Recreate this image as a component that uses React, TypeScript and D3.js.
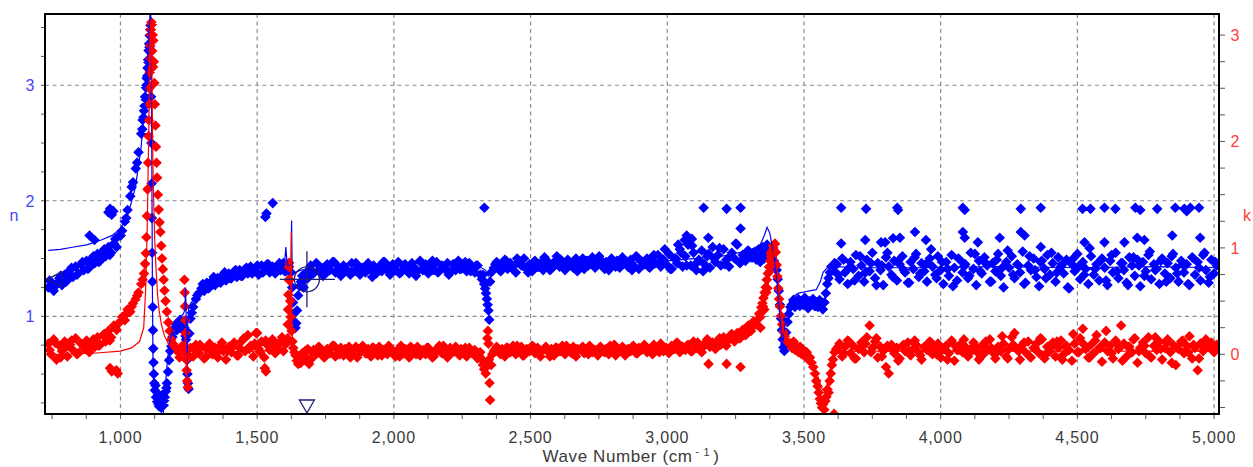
import React from 'react';
import * as d3 from 'd3';

const W = 1253;
const H = 467;
const plot = { left: 45, right: 1219, top: 14, bottom: 414 };

const waveDomain = [724, 5018];
const nDomain = [0.154, 3.617];
const kDomain = [-0.561, 3.198];

const waveTicks = [1000, 1500, 2000, 2500, 3000, 3500, 4000, 4500, 5000];
const waveMinorStep = 125;
const nTicks = [1, 2, 3];
const kTicks = [0, 1, 2, 3];
const minorStep = 0.25;

// ---- n (refractive index) measured points ----
const bandStep = 10;
const bandStepB = 20;
const nBand1Start = 736;
const nBand1 = [1.25, 1.30, 1.22, 1.28, 1.33, 1.27, 1.36, 1.31, 1.40, 1.34, 1.43, 1.37, 1.45, 1.40, 1.48, 1.42, 1.50, 1.46, 1.54, 1.48, 1.56, 1.52, 1.60, 1.55, 1.63, 1.60, 1.70, 1.74, 1.82, 1.92, 2.04, 2.16, 2.28, 2.42, 2.58, 2.78];
const nBand1bStart = 741;
const nBand1b = [1.31, 1.26, 1.35, 1.30, 1.42, 1.36, 1.47, 1.41, 1.52, 1.47, 1.58, 1.53, 1.67, 1.70, 1.85, 2.12, 2.33, 2.70];
const nBand2Start = 1256;
const nBand2 = [0.98, 1.08, 1.15, 1.20, 1.24, 1.22, 1.29, 1.25, 1.31, 1.27, 1.33, 1.29, 1.36, 1.31, 1.37, 1.33, 1.39, 1.34, 1.40, 1.35, 1.41, 1.37, 1.43, 1.38, 1.42, 1.36, 1.44, 1.39, 1.45, 1.38, 1.43, 1.37, 1.44, 1.40, 1.46, 1.39, 1.43];
const nBand2bStart = 1261;
const nBand2b = [1.03, 1.18, 1.28, 1.24, 1.34, 1.30, 1.38, 1.33, 1.40, 1.35, 1.42, 1.37, 1.44, 1.38, 1.45, 1.40, 1.46, 1.39];
const nBand3Start = 1696;
const nBand3 = [1.44, 1.37, 1.46, 1.39, 1.42, 1.36, 1.45, 1.40, 1.47, 1.38, 1.43, 1.35, 1.44, 1.41, 1.37, 1.46, 1.39, 1.45, 1.36, 1.42, 1.38, 1.46, 1.40, 1.44, 1.37, 1.43, 1.39, 1.47, 1.41, 1.36, 1.45, 1.40, 1.47, 1.38, 1.44, 1.41, 1.37, 1.46, 1.42, 1.39, 1.48, 1.40, 1.45, 1.37, 1.43, 1.40, 1.47, 1.39, 1.44, 1.41, 1.46, 1.38, 1.45, 1.40, 1.48, 1.41, 1.44, 1.39, 1.46, 1.42, 1.38, 1.44, 1.36];
const nBand3bStart = 1701;
const nBand3b = [1.39, 1.45, 1.35, 1.43, 1.47, 1.38, 1.42, 1.36, 1.46, 1.40, 1.44, 1.34, 1.41, 1.47, 1.39, 1.43, 1.37, 1.45, 1.42, 1.35, 1.46, 1.40, 1.48, 1.38, 1.43, 1.36, 1.45, 1.41, 1.47, 1.39, 1.44];
const nBand4Start = 2366;
const nBand4 = [1.42, 1.47, 1.40, 1.45, 1.49, 1.41, 1.46, 1.43, 1.38, 1.47, 1.44, 1.50, 1.41, 1.45, 1.39, 1.48, 1.43, 1.46, 1.40, 1.49, 1.44, 1.41, 1.47, 1.52, 1.43, 1.46, 1.40, 1.49, 1.45, 1.42, 1.50, 1.44, 1.47, 1.41, 1.48, 1.45, 1.51, 1.42, 1.46, 1.49, 1.43, 1.47, 1.40, 1.50, 1.45, 1.48, 1.42, 1.51, 1.46, 1.43, 1.49, 1.44, 1.52, 1.41, 1.47, 1.45, 1.50, 1.42, 1.48, 1.46, 1.53, 1.43, 1.49, 1.45, 1.54, 1.41, 1.50, 1.46, 1.58, 1.43, 1.52, 1.62, 1.44, 1.55, 1.40, 1.49, 1.57, 1.45, 1.52, 1.42, 1.60, 1.47, 1.53, 1.44, 1.58, 1.49, 1.43, 1.55, 1.50, 1.62, 1.46, 1.53, 1.48, 1.57, 1.51, 1.55, 1.49];
const nBand4bStart = 2371;
const nBand4b = [1.45, 1.39, 1.48, 1.42, 1.50, 1.44, 1.38, 1.47, 1.43, 1.51, 1.40, 1.46, 1.49, 1.42, 1.45, 1.39, 1.50, 1.44, 1.47, 1.52, 1.41, 1.46, 1.43, 1.49, 1.45, 1.40, 1.51, 1.47, 1.43, 1.53, 1.46, 1.58, 1.41, 1.50, 1.55, 1.44, 1.61, 1.47, 1.39, 1.54, 1.50, 1.59, 1.45, 1.52, 1.63, 1.48, 1.56, 1.51];
const nBand5Start = 3620;
const nBand5 = [1.45, 1.32, 1.50, 1.38, 1.28, 1.47, 1.41, 1.53, 1.35, 1.44, 1.30, 1.49, 1.39, 1.55, 1.33, 1.46, 1.40, 1.27, 1.51, 1.43, 1.36, 1.48, 1.31, 1.45, 1.52, 1.38, 1.29, 1.47, 1.41, 1.54, 1.34, 1.46, 1.39, 1.30, 1.50, 1.43, 1.36, 1.52, 1.40, 1.28, 1.47, 1.35, 1.53, 1.42, 1.31, 1.49, 1.38, 1.45, 1.33, 1.55, 1.41, 1.27, 1.48, 1.37, 1.51, 1.44, 1.30, 1.46, 1.39, 1.54, 1.35, 1.25, 1.47, 1.42, 1.52, 1.33, 1.45, 1.38, 1.56, 1.29, 1.44, 1.40, 1.50, 1.34, 1.26, 1.48, 1.41, 1.53, 1.36, 1.46, 1.30, 1.51, 1.43, 1.37, 1.49, 1.24, 1.45, 1.39, 1.54, 1.32, 1.47, 1.41, 1.28, 1.52, 1.36, 1.45, 1.31, 1.50, 1.42, 1.27, 1.48, 1.38, 1.55, 1.33, 1.46, 1.40, 1.29, 1.51, 1.44, 1.35, 1.49, 1.26, 1.47, 1.39, 1.53, 1.32, 1.45, 1.41, 1.28, 1.50, 1.37, 1.46, 1.33, 1.54, 1.42, 1.30, 1.48, 1.38, 1.45, 1.27, 1.51, 1.36, 1.47, 1.31, 1.53, 1.40, 1.29, 1.49, 1.37, 1.44];
const nBand5bStart = 3625;
const nBand5b = [1.36, 1.49, 1.42, 1.31, 1.52, 1.38, 1.46, 1.27, 1.44, 1.55, 1.34, 1.48, 1.40, 1.29, 1.51, 1.37, 1.45, 1.58, 1.33, 1.47, 1.41, 1.26, 1.50, 1.43, 1.35, 1.54, 1.39, 1.46, 1.30, 1.49, 1.42, 1.57, 1.36, 1.44, 1.28, 1.52, 1.40, 1.47, 1.33, 1.55, 1.38, 1.45, 1.25, 1.50, 1.43, 1.36, 1.59, 1.41, 1.48, 1.31, 1.53, 1.39, 1.46, 1.27, 1.51, 1.44, 1.35, 1.56, 1.40, 1.48, 1.30, 1.52, 1.37, 1.45, 1.28, 1.50, 1.42, 1.55, 1.34, 1.47];
const nRidgeStart = 3330;
const nRidgeStep = 5;
const nRidge = [1.52, 1.58, 1.47, 1.55, 1.60, 1.50, 1.57, 1.62, 1.53, 1.59, 1.50, 1.56, 1.48, 1.45, 1.40];
const nPlateauStart = 3455;
const nPlateauStep = 6;
const nPlateau = [1.10, 1.14, 1.08, 1.12, 1.15, 1.09, 1.13, 1.10, 1.16, 1.11, 1.07, 1.13, 1.10, 1.15, 1.09, 1.12, 1.08, 1.14, 1.10, 1.06];
const nFeatures: [number, number][] = [
  [1080, 2.62], [1084, 2.72], [1088, 2.82], [1090, 2.90], [1092, 2.88], [1093, 2.98], [1095, 3.0], [1096, 3.06], [1098, 3.08], [1099, 3.15], [1101, 3.22], [1102, 3.2], [1103, 3.30], [1105, 3.36], [1106, 3.33], [1107, 3.43], [1109, 3.48], [1110, 3.52],
  [1112, 2.9], [1113, 2.5], [1114, 2.15], [1115, 1.85], [1116, 1.55], [1117, 1.3], [1118, 1.08], [1119, 0.88], [1120, 0.72], [1121, 0.6], [1122, 0.5], [1124, 0.42],
  [1126, 0.36], [1128, 0.40], [1130, 0.30], [1134, 0.26], [1136, 0.33], [1138, 0.24], [1142, 0.22], [1144, 0.30], [1146, 0.25], [1150, 0.21], [1152, 0.31], [1154, 0.27], [1158, 0.23], [1160, 0.27], [1162, 0.30], [1166, 0.35], [1168, 0.38], [1170, 0.42], [1174, 0.52], [1178, 0.62], [1182, 0.70],
  [1186, 0.74], [1190, 0.82], [1194, 0.87], [1198, 0.90], [1202, 0.93], [1206, 0.88], [1210, 0.95], [1214, 0.91], [1218, 0.97], [1222, 0.93], [1226, 0.89], [1230, 0.95], [1234, 0.90], [1238, 0.83], [1240, 0.80], [1243, 0.62], [1245, 0.50], [1247, 0.42], [1249, 0.37], [1252, 0.85],
  [1624, 1.38], [1628, 1.25], [1631, 1.12], [1634, 1.02], [1637, 0.95], [1640, 0.90], [1643, 0.94], [1646, 1.05], [1650, 1.18], [1655, 1.26], [1660, 1.30], [1665, 1.35], [1670, 1.25], [1675, 1.32], [1680, 1.38], [1685, 1.33], [1690, 1.40],
  [2322, 1.32], [2326, 1.36], [2330, 1.28], [2334, 1.24], [2337, 1.20], [2340, 1.15], [2343, 1.10], [2346, 1.05], [2349, 0.97], [2352, 1.30], [2356, 1.38],
  [3404, 1.32], [3408, 1.22], [3412, 1.10], [3416, 0.98], [3419, 0.88], [3422, 0.80], [3425, 0.73], [3428, 0.70], [3431, 0.76], [3435, 0.86], [3440, 0.95], [3445, 1.02], [3450, 1.08],
  [3575, 1.12], [3580, 1.20], [3585, 1.28], [3590, 1.33], [3595, 1.38], [3600, 1.43], [3606, 1.40], [3612, 1.46],
];
const nOutliers: [number, number][] = [
  [887, 1.70], [905, 1.66], [956, 1.90], [962, 1.93], [968, 1.88], [974, 1.91], [1530, 1.86], [1534, 1.89], [1557, 1.98], [2331, 1.94],
  [3133, 1.94], [3217, 1.93], [3268, 1.94], [3636, 1.94], [3727, 1.93], [3841, 1.94], [3844, 1.92], [4081, 1.94], [4088, 1.92], [4293, 1.93], [4366, 1.94], [4519, 1.93], [4548, 1.93], [4599, 1.94], [4639, 1.93], [4712, 1.94], [4730, 1.92], [4792, 1.93], [4858, 1.94], [4891, 1.93], [4900, 1.91], [4913, 1.94], [4945, 1.94],
  [3040, 1.62], [3064, 1.66], [3071, 1.70], [3090, 1.67], [3150, 1.68], [3268, 1.76], [3636, 1.63], [3724, 1.66], [3782, 1.64], [3797, 1.64], [3826, 1.675], [3851, 1.68], [3906, 1.73], [3946, 1.66], [4081, 1.73], [4088, 1.68], [4136, 1.64], [4216, 1.68], [4293, 1.73], [4307, 1.70], [4366, 1.60], [4526, 1.64], [4599, 1.64], [4672, 1.64], [4719, 1.68], [4745, 1.66], [4847, 1.70], [4949, 1.68],
];

// ---- k (extinction coefficient) measured points ----
const kBand1Start = 736;
const kBand1 = [0.10, 0.00, 0.14, -0.05, 0.08, 0.03, 0.12, -0.02, 0.09, 0.04, 0.15, 0.01, 0.10, 0.06, 0.13, 0.02, 0.11, 0.07, 0.16, 0.09, 0.18, 0.12, 0.22, 0.16, 0.27, 0.23, 0.30, 0.35, 0.32, 0.42, 0.40, 0.48, 0.52, 0.58, 0.66, 0.76];
const kBand1bStart = 741;
const kBand1b = [0.04, 0.11, -0.03, 0.07, 0.13, 0.00, 0.09, 0.05, 0.14, 0.08, 0.19, 0.13, 0.25, 0.31, 0.38, 0.45, 0.55, 0.70];
const kBand2Start = 1206;
const kBand2 = [0.05, -0.03, 0.08, 0.02, -0.04, 0.06, -0.02, 0.09, 0.01, 0.07, -0.04, 0.05, 0.10, 0.00, 0.06, -0.03, 0.08, 0.03, -0.05, 0.07, 0.02, 0.11, -0.01, 0.06, 0.13, 0.03, 0.18, 0.08, -0.02, 0.20, 0.05, 0.12, -0.03, 0.09, 0.04, 0.14, 0.01, 0.08, 0.12, 0.03, 0.10];
const kBand2bStart = 1211;
const kBand2b = [0.02, 0.07, -0.02, 0.04, 0.09, -0.03, 0.06, 0.01, 0.11, 0.03, 0.07, -0.01, 0.15, 0.05, 0.10, 0.02, 0.13, 0.06, 0.09, 0.16];
const kBand3Start = 1696;
const kBand3 = [-0.05, 0.04, 0.00, 0.07, 0.02, -0.03, 0.05, 0.01, 0.08, -0.02, 0.04, 0.06, -0.01, 0.03, 0.07, 0.00, 0.05, -0.03, 0.04, 0.08, 0.01, 0.05, -0.02, 0.06, 0.02, 0.07, -0.01, 0.04, 0.00, 0.06, 0.03, -0.02, 0.05, 0.08, 0.01, 0.04, -0.03, 0.06, 0.02, 0.07, -0.01, 0.04, 0.00, 0.06, 0.03, -0.02, 0.05, 0.08, 0.01, 0.04, -0.03, 0.06, 0.02, 0.07, 0.00, 0.05, 0.03, -0.02, 0.06, 0.01, 0.04, -0.04, 0.02];
const kBand3bStart = 1701;
const kBand3b = [0.02, 0.06, -0.02, 0.04, 0.08, 0.00, 0.05, -0.03, 0.07, 0.03, 0.01, 0.06, -0.01, 0.04, 0.08, 0.02, -0.02, 0.05, 0.07, 0.00, 0.03, 0.06, -0.03, 0.04, 0.08, 0.01, 0.05, -0.01, 0.06, 0.03, 0.00];
const kBand4Start = 2366;
const kBand4 = [0.03, 0.07, 0.01, 0.05, -0.02, 0.06, 0.02, 0.08, 0.00, 0.04, 0.07, -0.01, 0.05, 0.03, 0.08, 0.01, 0.06, -0.02, 0.04, 0.07, 0.02, 0.05, -0.01, 0.06, 0.03, 0.08, 0.00, 0.05, 0.02, 0.07, -0.02, 0.04, 0.06, 0.01, 0.05, 0.08, 0.02, 0.04, -0.01, 0.07, 0.03, 0.05, 0.00, 0.06, 0.09, 0.02, 0.04, 0.07, -0.01, 0.05, 0.03, 0.08, 0.01, 0.06, 0.04, 0.09, 0.02, 0.05, 0.00, 0.07, 0.04, 0.10, 0.03, 0.06, 0.01, 0.08, 0.05, 0.11, 0.02, 0.07, 0.04, 0.09, 0.03, 0.12, 0.06, 0.08, 0.02, 0.10, 0.14, 0.07, 0.11, 0.05, 0.13, 0.09, 0.16, 0.08, 0.14, 0.19, 0.12, 0.20, 0.15, 0.23, 0.18, 0.27, 0.22, 0.31, 0.28];
const kBand4bStart = 2371;
const kBand4b = [0.05, 0.00, 0.06, 0.03, 0.08, -0.01, 0.04, 0.07, 0.02, 0.05, -0.02, 0.06, 0.03, 0.08, 0.01, 0.05, 0.07, 0.00, 0.04, 0.06, 0.02, 0.08, -0.01, 0.05, 0.03, 0.07, 0.01, 0.06, 0.04, 0.09, 0.02, 0.06, 0.04, 0.10, 0.05, 0.08, 0.03, 0.11, 0.07, 0.13, 0.09, 0.15, 0.11, 0.18, 0.14, 0.21, 0.19, 0.26];
const kBand5Start = 3620;
const kBand5 = [0.04, 0.10, -0.02, 0.07, 0.13, 0.01, 0.08, -0.04, 0.05, 0.11, 0.02, 0.16, 0.27, 0.06, 0.12, -0.03, 0.07, 0.03, -0.12, -0.18, 0.09, 0.01, 0.06, -0.04, 0.08, 0.03, 0.11, -0.01, 0.05, 0.09, 0.02, -0.05, 0.07, 0.04, 0.12, 0.00, 0.06, 0.10, -0.03, 0.05, 0.08, 0.01, 0.13, -0.06, 0.04, 0.09, 0.02, 0.07, -0.02, 0.05, 0.11, 0.03, -0.05, 0.08, 0.01, 0.06, 0.14, 0.02, -0.04, 0.07, 0.03, 0.10, -0.02, 0.05, 0.16, 0.20, 0.04, -0.05, 0.09, 0.02, 0.12, -0.03, 0.06, 0.10, 0.01, 0.14, -0.04, 0.07, 0.03, 0.11, -0.02, 0.06, 0.13, 0.00, 0.08, 0.04, -0.06, 0.10, 0.02, 0.15, 0.24, 0.05, -0.03, 0.09, 0.01, 0.18, 0.06, -0.07, 0.11, 0.03, 0.08, -0.04, 0.13, 0.05, 0.27, 0.10, -0.02, 0.07, 0.02, 0.15, -0.08, 0.06, 0.11, 0.01, 0.16, -0.03, 0.08, 0.04, 0.12, -0.05, 0.06, 0.14, 0.02, 0.09, -0.10, 0.05, 0.12, 0.01, 0.08, 0.17, -0.04, 0.06, -0.15, 0.10, 0.03, 0.14, 0.07, 0.11, 0.02, 0.09];
const kBand5bStart = 3625;
const kBand5b = [0.07, 0.01, 0.12, -0.04, 0.06, 0.10, 0.02, 0.15, -0.02, 0.08, 0.04, -0.06, 0.09, 0.03, 0.13, -0.01, 0.07, 0.11, 0.00, 0.05, -0.05, 0.10, 0.04, 0.14, 0.01, 0.08, -0.03, 0.12, 0.06, 0.02, 0.17, -0.04, 0.09, 0.03, 0.11, -0.02, 0.06, 0.15, 0.00, 0.08, 0.12, -0.05, 0.05, 0.19, 0.02, 0.09, -0.03, 0.13, 0.06, 0.22, 0.01, 0.10, -0.06, 0.07, 0.14, 0.03, 0.08, -0.02, 0.16, 0.05, 0.11, -0.08, 0.06, 0.13, 0.02, 0.09, -0.04, 0.12, 0.07, 0.04];
const kFeatures: [number, number][] = [
  [1090, 0.85], [1093, 0.95], [1095, 1.10], [1097, 1.30], [1099, 1.55], [1101, 1.80], [1103, 2.05], [1104, 2.2], [1105, 2.35], [1106, 2.5], [1107, 2.65], [1108, 2.78], [1109, 2.90], [1111, 3.05], [1112, 3.0], [1113, 3.12], [1115, 3.10], [1116, 2.85], [1118, 3.00], [1119, 2.7], [1120, 2.95], [1122, 2.75], [1124, 2.55], [1126, 2.35], [1128, 2.15], [1130, 1.95], [1132, 1.80], [1134, 1.66], [1137, 1.50], [1140, 1.36], [1143, 1.24], [1146, 1.15], [1149, 1.02], [1152, 0.90], [1155, 0.80], [1158, 0.70], [1161, 0.60], [1165, 0.50], [1170, 0.40], [1175, 0.30], [1180, 0.22], [1186, 0.14], [1192, 0.10], [1198, 0.07],
  [1234, 0.70], [1235, 0.58], [1236, 0.45], [1237, 0.32], [1238, 0.20], [1240, 0.06], [1241, -0.05], [1242, -0.15], [1244, -0.25], [1246, -0.31],
  [1611, 0.15], [1612, 0.28], [1613, 0.42], [1614, 0.56], [1615, 0.70], [1616, 0.82], [1617, 0.86], [1619, 0.70], [1621, 0.50], [1623, 0.35], [1626, 0.22], [1629, 0.12], [1632, 0.06], [1636, 0.02], [1640, -0.01], [1645, -0.06], [1650, -0.09], [1655, -0.04], [1660, -0.08], [1665, 0.01], [1670, -0.05], [1675, 0.03], [1680, -0.03], [1685, 0.05], [1690, -0.09],
  [2322, -0.05], [2326, -0.10], [2330, -0.14], [2333, -0.08], [2336, -0.18], [2339, -0.12], [2342, 0.15], [2344, 0.22], [2346, 0.10], [2348, -0.05], [2350, -0.27], [2352, -0.43], [2356, -0.10], [2360, 0.0],
  [3332, 0.33], [3336, 0.38], [3340, 0.35], [3341, 0.25], [3344, 0.44], [3348, 0.48], [3350, 0.45], [3352, 0.53], [3355, 0.42], [3356, 0.58], [3360, 0.63], [3362, 0.58], [3364, 0.70], [3366, 0.62], [3368, 0.76], [3372, 0.82], [3374, 0.78], [3376, 0.88], [3378, 0.95], [3380, 0.92], [3382, 0.86], [3384, 0.97], [3386, 1.02], [3388, 1.00], [3391, 1.03], [3394, 1.04], [3397, 0.96], [3400, 0.84], [3403, 0.73], [3406, 0.62], [3409, 0.52], [3412, 0.45], [3416, 0.36], [3420, 0.28], [3425, 0.21], [3430, 0.17], [3436, 0.13], [3442, 0.11],
  [3450, 0.10], [3456, 0.06], [3462, 0.12], [3468, 0.04], [3474, 0.08], [3480, 0.02], [3486, 0.07], [3492, 0.00], [3498, 0.04], [3504, -0.02], [3510, 0.02], [3516, -0.05], [3522, -0.03], [3528, -0.08], [3534, -0.12], [3540, -0.18], [3545, -0.25], [3550, -0.30], [3554, -0.36], [3558, -0.42], [3562, -0.46], [3566, -0.50], [3570, -0.47], [3574, -0.52], [3578, -0.44], [3582, -0.40], [3586, -0.33], [3590, -0.36], [3594, -0.25], [3598, -0.18], [3602, -0.10], [3606, -0.05], [3610, -0.56], [3612, 0.02], [3618, 0.05],
];
const kOutliers: [number, number][] = [
  [962, -0.13], [968, -0.16], [985, -0.15], [990, -0.18], [1528, -0.13], [1532, -0.16], [1500, 0.20], [3151, -0.09], [3217, -0.09], [3268, -0.12],
];

// ---- fitted model curves ----
const nFit: [number, number][] = [
  [736, 1.57], [780, 1.58], [830, 1.60], [880, 1.62], [930, 1.66], [970, 1.70], [1000, 1.76], [1030, 1.90], [1055, 2.12], [1075, 2.45], [1090, 2.85], [1100, 3.25], [1107, 3.55], [1110, 3.75], [1113, 3.2], [1115, 2.2], [1117, 1.2], [1119, 0.6], [1122, 0.38], [1126, 0.30], [1130, 0.35], [1134, 0.22], [1138, 0.30], [1142, 0.18], [1146, 0.25], [1150, 0.15], [1155, 0.1], [1160, 0.3], [1166, 0.45], [1172, 0.62], [1180, 0.78], [1190, 0.88], [1200, 0.92], [1215, 0.98], [1230, 1.02], [1236, 1.06], [1238, 1.25], [1240, 1.05], [1242, 0.50], [1244, 0.45], [1246, 0.95], [1250, 1.08], [1260, 1.12], [1275, 1.18], [1290, 1.24], [1310, 1.28], [1350, 1.32], [1400, 1.35], [1450, 1.37], [1500, 1.39], [1550, 1.40], [1590, 1.42], [1600, 1.45], [1605, 1.60], [1608, 1.50], [1612, 1.44], [1624, 1.44], [1626, 1.83], [1628, 1.38], [1640, 1.38], [1660, 1.40], [1700, 1.41], [1800, 1.41], [2000, 1.42], [2200, 1.42], [2320, 1.42], [2335, 1.40], [2345, 1.35], [2352, 1.42], [2400, 1.43], [2600, 1.44], [2800, 1.46], [3000, 1.48], [3200, 1.52], [3300, 1.57], [3340, 1.62], [3355, 1.70], [3365, 1.77], [3375, 1.72], [3388, 1.55], [3400, 1.35], [3410, 1.05], [3418, 0.85], [3424, 0.78], [3430, 0.92], [3440, 1.08], [3450, 1.14], [3460, 1.17], [3480, 1.20], [3500, 1.21], [3520, 1.22], [3545, 1.23], [3560, 1.30], [3570, 1.38], [3585, 1.42], [3620, 1.43], [3700, 1.42], [3900, 1.42], [4200, 1.43], [4500, 1.42], [4800, 1.43], [5010, 1.42],
];
const kFit: [number, number][] = [
  [736, 0.0], [800, 0.0], [900, 0.01], [1000, 0.03], [1040, 0.06], [1070, 0.12], [1085, 0.25], [1092, 0.6], [1098, 1.2], [1103, 2.0], [1107, 2.7], [1110, 3.1], [1112, 3.15], [1114, 2.9], [1116, 2.4], [1118, 1.9], [1121, 1.5], [1125, 1.1], [1130, 0.8], [1136, 0.55], [1142, 0.4], [1150, 0.28], [1160, 0.18], [1175, 0.1], [1190, 0.06], [1200, 0.05], [1230, 0.04], [1236, 0.08], [1238, 0.25], [1240, -0.05], [1242, -0.25], [1244, 0.0], [1250, 0.03], [1300, 0.02], [1400, 0.02], [1500, 0.03], [1580, 0.04], [1605, 0.08], [1615, 0.15], [1620, 0.3], [1623, 0.5], [1625, 1.15], [1627, 0.3], [1630, 0.05], [1640, 0.0], [1660, 0.02], [1800, 0.02], [2000, 0.02], [2320, 0.02], [2335, -0.05], [2345, -0.02], [2360, 0.02], [2600, 0.03], [2900, 0.04], [3100, 0.06], [3200, 0.1], [3260, 0.16], [3300, 0.24], [3330, 0.32], [3360, 0.52], [3380, 0.82], [3392, 1.0], [3398, 0.95], [3405, 0.70], [3415, 0.42], [3425, 0.22], [3440, 0.12], [3460, 0.08], [3480, 0.05], [3500, 0.02], [3520, -0.02], [3535, -0.08], [3550, -0.2], [3565, -0.32], [3575, -0.35], [3585, -0.28], [3595, -0.15], [3605, -0.05], [3620, 0.02], [3700, 0.03], [5010, 0.03],
];

// cursor marker position
const cursorWave = 1682;
const cursorN = 1.32;

const BLUE = '#0000ff';
const RED = '#ff0000';
const NAVY = '#1e1e78';
const FONT = '"Liberation Sans", Arial, sans-serif';

function band(start: number, step: number, vals: number[]): [number, number][] {
  return vals.map((v, i) => [start + i * step, v] as [number, number]);
}

export default function App() {
  const x = d3.scaleLinear().domain(waveDomain).range([plot.left, plot.right]);
  const yN = d3.scaleLinear().domain(nDomain).range([plot.bottom, plot.top]);
  const yK = d3.scaleLinear().domain(kDomain).range([plot.bottom, plot.top]);

  const nPoints: [number, number][] = [
    ...band(nBand1Start, bandStep, nBand1),
    ...band(nBand1bStart, bandStepB, nBand1b),
    ...band(nBand2Start, bandStep, nBand2),
    ...band(nBand2bStart, bandStepB, nBand2b),
    ...band(nBand3Start, bandStep, nBand3),
    ...band(nBand3bStart, bandStepB, nBand3b),
    ...band(nBand4Start, bandStep, nBand4),
    ...band(nBand4bStart, bandStepB, nBand4b),
    ...band(nBand5Start, bandStep, nBand5),
    ...band(nBand5bStart, bandStepB, nBand5b),
    ...band(nRidgeStart, nRidgeStep, nRidge),
    ...band(nPlateauStart, nPlateauStep, nPlateau),
    ...nFeatures,
    ...nOutliers,
  ];
  const kPoints: [number, number][] = [
    ...band(kBand1Start, bandStep, kBand1),
    ...band(kBand1bStart, bandStepB, kBand1b),
    ...band(kBand2Start, bandStep, kBand2),
    ...band(kBand2bStart, bandStepB, kBand2b),
    ...band(kBand3Start, bandStep, kBand3),
    ...band(kBand3bStart, bandStepB, kBand3b),
    ...band(kBand4Start, bandStep, kBand4),
    ...band(kBand4bStart, bandStepB, kBand4b),
    ...band(kBand5Start, bandStep, kBand5),
    ...band(kBand5bStart, bandStepB, kBand5b),
    ...kFeatures,
    ...kOutliers,
  ];

  const r = 5.3;
  const diamonds = (pts: [number, number][], ys: d3.ScaleLinear<number, number>) => {
    const p = d3.path();
    pts.forEach(([w, v]) => {
      const cx = x(w);
      const cy = ys(v);
      p.moveTo(cx, cy - r);
      p.lineTo(cx + r, cy);
      p.lineTo(cx, cy + r);
      p.lineTo(cx - r, cy);
      p.closePath();
    });
    return p.toString();
  };

  const nLine = d3.line<[number, number]>().x((d) => x(d[0])).y((d) => yN(d[1]));
  const kLine = d3.line<[number, number]>().x((d) => x(d[0])).y((d) => yK(d[1]));

  const minorWave = d3.range(750, 5001, waveMinorStep);
  const nMinor = d3.range(0.25, 3.51, minorStep);
  const kMinor = d3.range(-0.5, 3.01, minorStep);
  const fmt = d3.format(',');

  const cx = x(cursorWave);
  const cy = yN(cursorN);

  return (
    <svg width={W} height={H} style={{ position: 'absolute', left: 0, top: 0, background: '#fff' }} fontFamily={FONT}>
      <defs>
        <clipPath id="plotClip">
          <rect x={plot.left} y={plot.top} width={plot.right - plot.left} height={plot.bottom - plot.top} />
        </clipPath>
      </defs>
      <rect x={0} y={0} width={W} height={H} fill="#fff" />

      {/* grid */}
      <g stroke="#8a8a8a" strokeWidth={1.2} strokeDasharray="4,3.5" fill="none">
        {waveTicks.map((t) => (
          <line key={'gx' + t} x1={x(t)} x2={x(t)} y1={plot.top} y2={plot.bottom} />
        ))}
        {nTicks.map((t) => (
          <line key={'gy' + t} x1={plot.left} x2={plot.right} y1={yN(t)} y2={yN(t)} />
        ))}
      </g>

      {/* data */}
      <g clipPath="url(#plotClip)">
        <path d={diamonds(nPoints, yN)} fill={BLUE} />
        <path d={diamonds(kPoints, yK)} fill={RED} />
        <path d={nLine(nFit) || ''} fill="none" stroke={BLUE} strokeWidth={1.2} />
        <path d={kLine(kFit) || ''} fill="none" stroke={RED} strokeWidth={1.2} />
        {/* cursor */}
        <g stroke={NAVY} strokeWidth={1.3} fill="none">
          <circle cx={cx} cy={cy} r={12.5} />
          <line x1={cx} x2={cx} y1={cy - 28} y2={cy + 28} />
          <line x1={cx - 27} x2={cx + 28} y1={cy} y2={cy} />
          <path d={`M${plot.left + 2},${cy} L${plot.left + 17},${cy - 7.5} L${plot.left + 17},${cy + 7.5} Z`} />
          <path d={`M${cx - 7.5},${plot.bottom - 14} L${cx + 7.5},${plot.bottom - 14} L${cx},${plot.bottom - 1} Z`} />
        </g>
      </g>

      {/* frame */}
      <rect x={plot.left} y={plot.top} width={plot.right - plot.left} height={plot.bottom - plot.top} fill="none" stroke="#000" strokeWidth={2} />

      {/* ticks */}
      <g stroke="#555" strokeWidth={1}>
        {minorWave.map((t) => (
          <line key={'bt' + t} x1={x(t)} x2={x(t)} y1={plot.bottom + 1} y2={plot.bottom + 5} />
        ))}
        {nMinor.map((t) => (
          <line key={'lt' + t} x1={plot.left - 4} x2={plot.left - 1} y1={yN(t)} y2={yN(t)} />
        ))}
        {kMinor.map((t) => (
          <line key={'rt' + t} x1={plot.right + 1} x2={plot.right + 6} y1={yK(t)} y2={yK(t)} />
        ))}
      </g>

      {/* bottom labels */}
      <g fill="#3a3a3a" fontSize={16} textAnchor="middle" letterSpacing={0.8}>
        {waveTicks.map((t) => (
          <text key={'xl' + t} x={x(t)} y={443}>{fmt(t)}</text>
        ))}
      </g>
      <text x={631} y={462} fontSize={17} fill="#3a3a3a" letterSpacing={0.6} textAnchor="middle">
        Wave Number (cm
        <tspan dx={3} dy={-7} fontSize={10}>-</tspan>
        <tspan dx={4} dy={1} fontSize={11}>1</tspan>
        <tspan dx={3} dy={6}>)</tspan>
      </text>

      {/* left axis labels */}
      <g fill="#4646ff" fontSize={16} textAnchor="middle">
        {nTicks.map((t) => (
          <text key={'nl' + t} x={30} y={yN(t) + 6}>{t}</text>
        ))}
        <text x={14} y={221}>n</text>
      </g>
      {/* right axis labels */}
      <g fill="#ff3c3c" fontSize={16} textAnchor="middle">
        {kTicks.map((t) => (
          <text key={'kl' + t} x={1235} y={yK(t) + 6}>{t}</text>
        ))}
        <text x={1247} y={221}>k</text>
      </g>
    </svg>
  );
}
